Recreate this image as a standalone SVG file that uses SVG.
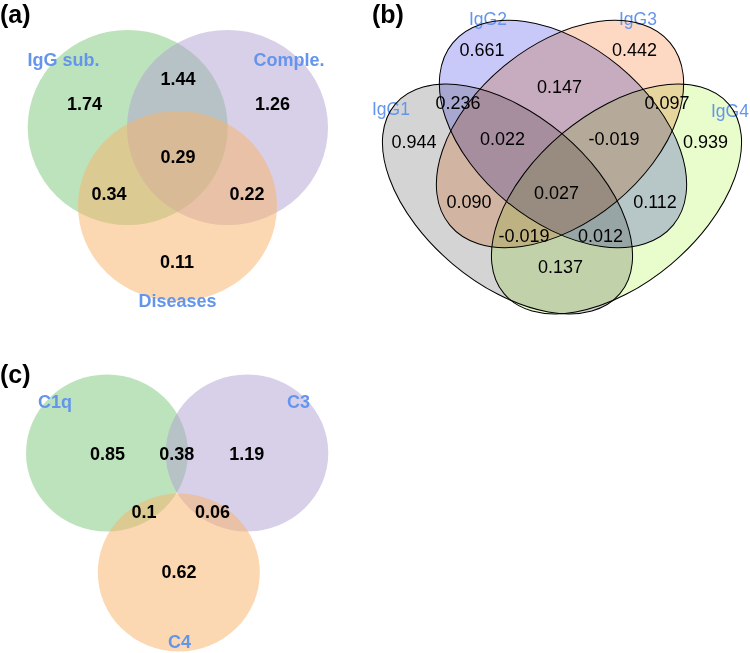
<svg xmlns="http://www.w3.org/2000/svg" width="750" height="653" viewBox="0 0 750 653">
<style>
.panel{font-family:"Liberation Sans",Arial,sans-serif;font-weight:bold;font-size:25px;fill:#000}
.num{font-family:"Liberation Sans",Arial,sans-serif;font-weight:bold;font-size:18px;fill:#000;text-anchor:middle}
.lab{font-family:"Liberation Sans",Arial,sans-serif;font-weight:bold;font-size:18px;fill:#6495ed;text-anchor:middle}
.num4{font-family:"Liberation Sans",Arial,sans-serif;font-size:18px;fill:#000;text-anchor:middle}
.lab4{font-family:"Liberation Sans",Arial,sans-serif;font-size:17.5px;fill:#6495ed}
.g{fill:#7bc77b;fill-opacity:0.5}
.p{fill:#b1a1d1;fill-opacity:0.5}
.o{fill:#f9b165;fill-opacity:0.5}
.e1{fill:#d4d4d4;mix-blend-mode:multiply}
.e2{fill:#c9c9f9;mix-blend-mode:multiply}
.e3{fill:#fdd9c4;mix-blend-mode:multiply}
.e4{fill:#e8fccc;mix-blend-mode:multiply}
.outline{fill:none;stroke:#000;stroke-width:1}
</style>
<defs>
<ellipse id="E1" cx="507.5" cy="199" rx="147" ry="85" transform="rotate(40.1 507.5 199)"/>
<ellipse id="E2" cx="563" cy="134" rx="143" ry="88" transform="rotate(39.6 563 134)"/>
<ellipse id="E3" cx="560" cy="134" rx="143" ry="88" transform="rotate(-39.6 560 134)"/>
<ellipse id="E4" cx="616.5" cy="199" rx="147" ry="85" transform="rotate(-40.1 616.5 199)"/>
</defs>
<rect width="750" height="653" fill="#fff"/>

<!-- Panel (a) -->
<text class="panel" x="0" y="23">(a)</text>
<g id="a-igg">
<ellipse class="g" cx="127.7" cy="127.5" rx="100" ry="97.5"/>
<text class="lab" x="63.5" y="66">IgG sub.</text>
</g>
<g id="a-comple">
<ellipse class="p" cx="227.5" cy="127.5" rx="100.5" ry="97.5"/>
<text class="lab" x="289" y="66">Comple.</text>
</g>
<g id="a-diseases">
<ellipse class="o" cx="177.5" cy="206" rx="99.5" ry="95"/>
<text class="lab" x="177.5" y="307">Diseases</text>
</g>
<g id="a-values">
<text class="num" x="84.5" y="110">1.74</text>
<text class="num" x="178" y="85">1.44</text>
<text class="num" x="272.5" y="110">1.26</text>
<text class="num" x="178" y="163">0.29</text>
<text class="num" x="109" y="200">0.34</text>
<text class="num" x="247" y="200">0.22</text>
<text class="num" x="177" y="268">0.11</text>
</g>

<!-- Panel (b) -->
<text class="panel" x="372" y="23">(b)</text>
<g id="b-igg1"><use href="#E1" class="e1"/><text class="lab4" x="372" y="115">IgG1</text></g>
<g id="b-igg2"><use href="#E2" class="e2"/><text class="lab4" x="469" y="25">IgG2</text></g>
<g id="b-igg3"><use href="#E3" class="e3"/><text class="lab4" x="619" y="25">IgG3</text></g>
<g id="b-igg4"><use href="#E4" class="e4"/><text class="lab4" x="711" y="117">IgG4</text></g>
<g id="b-outlines" class="outline">
<use href="#E1"/><use href="#E2"/><use href="#E3"/><use href="#E4"/>
</g>
<g id="b-values">
<text class="num4" x="482" y="56">0.661</text>
<text class="num4" x="634.5" y="56">0.442</text>
<text class="num4" x="559.5" y="93">0.147</text>
<text class="num4" x="458" y="109">0.236</text>
<text class="num4" x="667" y="109">0.097</text>
<text class="num4" x="414" y="148">0.944</text>
<text class="num4" x="502.5" y="145">0.022</text>
<text class="num4" x="614" y="145">-0.019</text>
<text class="num4" x="705.5" y="148">0.939</text>
<text class="num4" x="556.5" y="199">0.027</text>
<text class="num4" x="469" y="208">0.090</text>
<text class="num4" x="655" y="208">0.112</text>
<text class="num4" x="524" y="242">-0.019</text>
<text class="num4" x="600.5" y="242">0.012</text>
<text class="num4" x="560.5" y="273">0.137</text>
</g>

<!-- Panel (c) -->
<text class="panel" x="0" y="383">(c)</text>
<g id="c-c1q">
<ellipse class="g" cx="107" cy="453" rx="81" ry="78.5"/>
<text class="lab" x="55" y="408">C1q</text>
</g>
<g id="c-c3">
<ellipse class="p" cx="247" cy="453" rx="81.3" ry="78.5"/>
<text class="lab" x="298.5" y="408">C3</text>
</g>
<g id="c-c4">
<ellipse class="o" cx="178.8" cy="572.5" rx="81" ry="79"/>
<text class="lab" x="179.5" y="648">C4</text>
</g>
<g id="c-values">
<text class="num" x="107.5" y="460">0.85</text>
<text class="num" x="176.7" y="460">0.38</text>
<text class="num" x="246.7" y="460">1.19</text>
<text class="num" x="144" y="518">0.1</text>
<text class="num" x="212.5" y="518">0.06</text>
<text class="num" x="179" y="578">0.62</text>
</g>
</svg>
